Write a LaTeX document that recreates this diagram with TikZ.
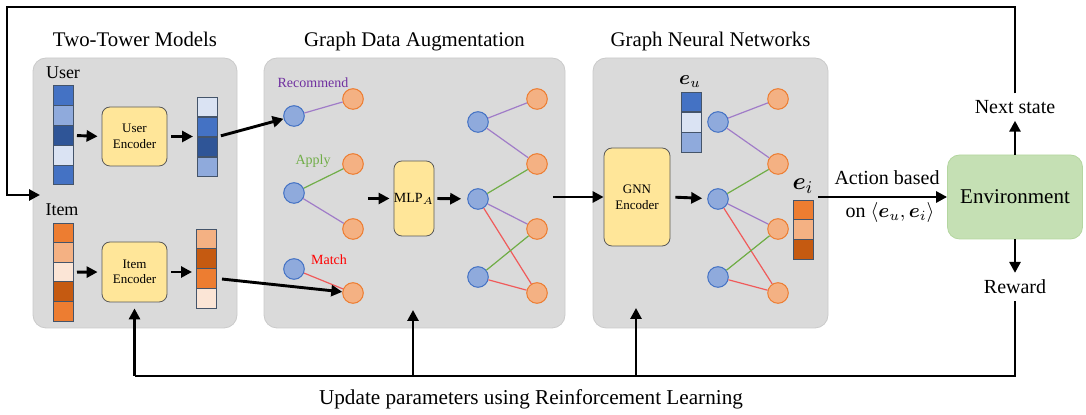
\documentclass[tikz,border=0pt]{standalone}
\usepackage{fontspec}
\setmainfont{Liberation Serif}
\usepackage{amsmath,amssymb}
\usetikzlibrary{positioning,arrows.meta,calc}

\definecolor{blueA}{HTML}{4472C4}
\definecolor{blueB}{HTML}{8FAADC}
\definecolor{blueC}{HTML}{2F5597}
\definecolor{blueD}{HTML}{DAE3F3}
\definecolor{orA}{HTML}{ED7D31}
\definecolor{orB}{HTML}{F4B183}
\definecolor{orC}{HTML}{C55A11}
\definecolor{orD}{HTML}{FBE5D6}
\definecolor{panelFill}{HTML}{DADADA}
\definecolor{panelLine}{HTML}{CACACA}
\definecolor{encFill}{HTML}{FFE699}
\definecolor{envFill}{HTML}{C5E0B4}
\definecolor{envLine}{HTML}{B4D6A0}
\definecolor{cellLine}{HTML}{44546A}
\definecolor{purpEdge}{HTML}{A07CC8}
\definecolor{grnEdge}{HTML}{70AD47}
\definecolor{redEdge}{HTML}{F05A5A}
\definecolor{purpText}{HTML}{7030A0}

\begin{document}
\begin{tikzpicture}[x=0.5pt, y=-0.5pt,
    panel/.style={draw=panelLine, fill=panelFill, rounded corners=6.5pt, inner sep=0pt},
    encBox/.style={draw=black!65, fill=encFill, rounded corners=4pt, align=center, inner sep=0pt, font=\fontsize{6.5}{7.8}\selectfont},
    cell/.style={draw=cellLine, line width=0.4pt, minimum width=10pt, minimum height=9.9pt, inner sep=0pt, outer sep=0pt},
    userNode/.style={circle, draw=blueA, fill=blueB, minimum size=10.3pt, inner sep=0pt, line width=0.5pt},
    itemNode/.style={circle, draw=orA, fill=orB, minimum size=10.3pt, inner sep=0pt, line width=0.5pt},
    titleText/.style={font=\fontsize{10.4}{12}\selectfont, text height=7pt, text depth=2pt},
    tagText/.style={font=\fontsize{7}{8}\selectfont},
    sideText/.style={font=\fontsize{10}{12}\selectfont},
    relRec/.style={draw=purpEdge, line width=0.6pt},
    relApp/.style={draw=grnEdge, line width=0.6pt},
    relMat/.style={draw=redEdge, line width=0.6pt},
    arrow/.style={-{Triangle[length=5.5pt, width=5.5pt]}, line width=1.45pt},
    loopLine/.style={line width=1.45pt}
]
\useasboundingbox (0,0) rectangle (1086,415);

% panels
\node[panel, minimum width=102pt, minimum height=135pt] (tt) at (135,193) {};
\node[panel, minimum width=150.5pt, minimum height=135pt] (gda) at (414.5,193) {};
\node[panel, minimum width=117.5pt, minimum height=135pt] (gnnp) at (710.5,193) {};
\node[titleText, above=0pt of tt] (ttTitle) {Two-Tower Models};
\node[titleText, above=0pt of gda] (gdaTitle) {Graph Data Augmentation};
\node[titleText, above=0pt of gnnp] (gnnTitle) {Graph Neural Networks};

% two-tower models
\node[font=\fontsize{9}{10}\selectfont] (userTag) at (63,73) {User};
\node[font=\fontsize{9}{10}\selectfont] (itemTag) at (62,210) {Item};
\foreach \c [count=\k] in {blueA,blueB,blueC,blueD,blueA}
  \node[cell, fill=\c] (ui\k) at (63,{76+19.8*\k}) {};
\foreach \c [count=\k] in {blueD,blueA,blueC,blueB}
  \node[cell, fill=\c] (uo\k) at (207,{87+20*\k}) {};
\foreach \c [count=\k] in {orA,orB,orD,orC,orA}
  \node[cell, fill=\c] (ii\k) at (63,{213.4+19.6*\k}) {};
\foreach \c [count=\k] in {orB,orC,orA,orD}
  \node[cell, fill=\c] (io\k) at (206,{219.3+19.7*\k}) {};
\node[encBox, minimum width=32.5pt, minimum height=29.5pt] (uenc) at (134.5,136.5) {User\\Encoder};
\node[encBox, minimum width=32.5pt, minimum height=30pt] (ienc) at (134.5,272) {Item\\Encoder};
\draw[arrow, shorten <=2pt, shorten >=2pt] (ui3.east) -- (uenc.west);
\draw[arrow, shorten <=2pt, shorten >=2pt] (uenc.east) -- (uenc.east -| uo1.west);
\draw[arrow, shorten <=2pt, shorten >=2pt] (ii3.east) -- (ienc.west);
\draw[arrow, shorten <=2pt, shorten >=2pt] (ienc.east) -- (ienc.east -| io1.west);

% graph data augmentation
\node[userNode] (ga1) at (294,116) {};
\node[itemNode] (gb1) at (353,99) {};
\node[userNode] (ga2) at (294,193) {};
\node[itemNode] (gb2) at (353,164) {};
\node[itemNode] (gb3) at (353,229) {};
\node[userNode] (ga3) at (294,269) {};
\node[itemNode] (gb4) at (353,293) {};
\draw[relRec] (ga1) -- (gb1);
\draw[relApp] (ga2) -- (gb2);
\draw[relRec] (ga2) -- (gb3);
\draw[relMat] (ga3) -- (gb4);
\node[tagText, text=purpText] (recTag) at (313,83) {Recommend};
\node[tagText, text=grnEdge] (appTag) at (313,161) {Apply};
\node[tagText, text=red] (matTag) at (329,260) {Match};
\node[encBox, minimum width=20pt, minimum height=37.5pt, font=\fontsize{7}{8}\selectfont] (mlp) at (414,198.5) {$\text{MLP}_A$};

% augmented graph and GNN graph
\foreach \k/\yy in {1/122,2/199,3/277} {
  \node[userNode] (gu\k) at (478,\yy) {};
  \node[userNode] (nu\k) at (718,\yy) {};
}
\foreach \k/\yy in {1/99,2/164,3/229,4/293} {
  \node[itemNode] (gi\k) at (537,\yy) {};
  \node[itemNode] (ni\k) at (778,\yy) {};
}
\foreach \a/\b/\rel in {1/1/relRec,1/2/relRec,2/2/relApp,2/3/relRec,2/4/relMat,3/3/relApp,3/4/relMat} {
  \draw[\rel] (gu\a) -- (gi\b);
  \draw[\rel] (nu\a) -- (ni\b);
}
\draw[arrow, shorten <=2pt, shorten >=2pt] (mlp.west -| gb2.east) -- (mlp.west);
\draw[arrow, shorten <=1.5pt, shorten >=3pt] (mlp.east) -- (gu2);

% graph neural networks
\node[encBox, minimum width=33pt, minimum height=49pt] (gnn) at (637,197) {GNN\\Encoder};
\node[font=\fontsize{10}{12}\selectfont] (euTag) at (690,82) {$\boldsymbol{e}_u$};
\node[font=\fontsize{12.5}{14}\selectfont] (eiTag) at (803,186) {$\boldsymbol{e}_i$};
\foreach \c [count=\k] in {blueA,blueD,blueB}
  \node[cell, fill=\c] (eu\k) at (691,{81.7+20.3*\k}) {};
\foreach \c [count=\k] in {orA,orB,orC}
  \node[cell, fill=\c] (ei\k) at (803,{190.3+19.7*\k}) {};
\draw[arrow, shorten <=2.5pt, shorten >=2.5pt] (gnn.east) -- (nu2);

% links between panels
\draw[arrow, shorten <=2pt] (uo2.south east) -- (ga1);
\draw[arrow, shorten <=3pt] (io3.east) -- (gb4);
\draw[arrow, shorten <=2.5pt] (gnn.west -| gi3.east) -- (gnn.west);

% environment
\node[draw=envLine, fill=envFill, rounded corners=6pt, minimum width=67.5pt, minimum height=42pt, font=\fontsize{10.5}{12}\selectfont] (env) at (1015,197) {Environment};
\node[sideText] (actTop) at (887,178) {Action based};
\node[sideText] (actBot) at (890,213) {on $\langle \boldsymbol{e}_u, \boldsymbol{e}_i \rangle$};
\node[sideText] (next) at (1015,107) {Next state};
\node[sideText] (reward) at (1015,287) {Reward};
\draw[arrow, shorten <=2.5pt] (env.west -| ei1.east) -- (env.west);
\draw[arrow] (env.north) -- (next.south);
\draw[arrow] (env.south) -- (reward.north);

% reinforcement loop
\coordinate (cTop) at (7,7);
\coordinate (ttIn) at (40,195);
\draw[arrow] (next.north) |- (cTop) |- (ttIn);
\coordinate (cBot) at (134.5,376);
\coordinate (gdaUp) at (413,310);
\coordinate (gnnUp) at (636,308);
\draw[loopLine] (reward.south) |- (cBot);
\draw[arrow, shorten >=3pt] (cBot) -- (ienc.south);
\draw[arrow] (gdaUp |- cBot) -- (gdaUp);
\draw[arrow] (gnnUp |- cBot) -- (gnnUp);
\node[font=\fontsize{10.6}{12}\selectfont] (rlText) at (531,399) {Update parameters using Reinforcement Learning};
\end{tikzpicture}
\end{document}
